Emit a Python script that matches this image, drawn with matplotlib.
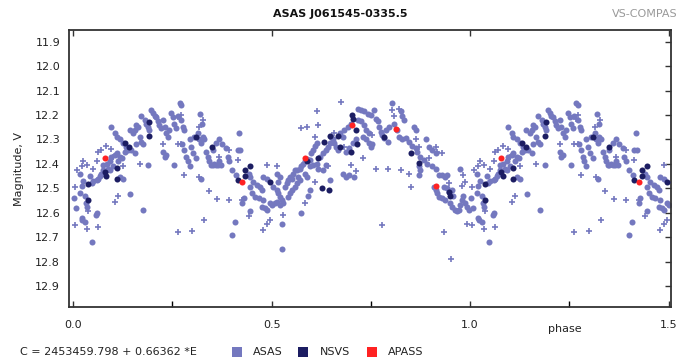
import numpy as np
import matplotlib
matplotlib.use("Agg")
import matplotlib.pyplot as plt
from matplotlib.patches import Rectangle

# ---- data (phase, magnitude V) ----
asas_phase = [0.002,0.007,0.017,0.021,0.025,0.017,0.021,0.023,0.029,0.029,0.032,0.035,0.042,0.046,0.050,0.059,0.063,0.067,0.071,0.075,
0.048,0.057,0.060,0.075,0.084,0.092,0.096,0.105,0.109,0.088,0.092,0.100,0.113,0.096,0.105,0.109,0.117,0.125,0.134,0.130,
0.138,0.146,0.155,0.117,0.124,0.125,0.117,0.144,0.142,0.151,0.155,0.159,0.163,0.167,0.171,0.176,0.171,0.180,0.184,0.188,
0.192,0.176,0.188,0.159,0.196,0.201,0.205,0.209,0.213,0.217,0.222,0.226,0.230,0.234,0.238,0.242,0.234,0.230,0.226,0.247,
0.251,0.255,0.259,0.255,0.268,0.272,0.263,0.272,0.276,0.280,0.274,0.280,0.284,0.288,0.293,0.293,0.297,0.301,0.309,0.305,
0.314,0.318,0.322,0.326,0.330,0.319,0.324,0.322,0.334,0.339,0.343,0.347,0.351,0.355,0.360,0.364,0.368,0.372,0.351,0.360,
0.368,0.376,0.385,0.389,0.393,0.401,0.410,0.401,0.408,0.418,0.414,
0.421,0.442,0.446,0.454,0.463,0.471,0.475,0.446,0.450,0.458,0.467,0.479,0.429,0.425,0.446,0.475,0.483,0.488,0.479,0.488,
0.504,0.513,0.517,0.521,0.525,0.529,0.521,0.496,0.500,0.508,0.513,0.513,0.521,0.517,0.525,0.525,0.533,0.538,0.542,0.546,
0.550,0.554,0.558,0.542,0.546,0.550,0.558,0.563,0.571,0.567,0.563,0.571,0.575,0.579,0.583,0.588,0.573,0.596,0.600,0.604,
0.608,0.613,0.596,0.604,0.613,0.617,0.596,0.592,0.646,0.621,0.629,0.638,0.642,0.646,0.629,0.638,0.583,0.588,0.650,0.654,
0.658,0.663,0.667,0.671,0.679,0.683,0.692,0.700,0.688,0.696,0.704,0.713,0.679,0.688,0.696,0.708,0.717,0.725,0.733,0.742,
0.750,0.758,0.717,0.725,0.733,0.738,0.746,0.729,0.738,0.746,0.750,0.754,0.763,0.767,0.771,0.775,0.779,0.783,0.792,0.788,
0.796,0.804,0.808,0.817,0.821,0.829,0.825,0.829,0.833,0.838,0.846,0.854,0.863,0.867,0.875,0.883,0.892,0.858,0.863,0.871,
0.875,0.871,0.888,0.896,0.904,0.913,0.904,0.913,0.921,0.929,0.938,0.942,0.908,0.913,0.917,0.921,0.929,0.938,0.933,0.942,
0.950,0.954,0.963,0.967,0.946,0.954,0.958,0.971,0.975,0.979,0.983,0.987,0.992,0.996,0.975]
asas_mag = [12.54,12.58,12.52,12.49,12.47,12.44,12.62,12.63,12.64,12.53,12.56,12.575,12.45,12.48,12.47,12.465,12.46,12.45,12.44,12.425,
12.72,12.61,12.60,12.405,12.40,12.39,12.37,12.365,12.355,12.42,12.425,12.41,12.39,12.25,12.275,12.29,12.30,12.315,12.33,12.35,
12.345,12.345,12.355,12.37,12.375,12.46,12.455,12.525,12.26,12.275,12.26,12.24,12.25,12.29,12.31,12.32,12.205,12.22,12.235,12.25,
12.26,12.59,12.405,12.32,12.18,12.19,12.205,12.21,12.225,12.24,12.255,12.22,12.25,12.275,12.29,12.26,12.365,12.37,12.35,12.19,
12.21,12.235,12.255,12.405,12.15,12.16,12.205,12.22,12.25,12.26,12.32,12.345,12.37,12.39,12.41,12.30,12.33,12.355,12.375,12.29,
12.275,12.30,12.315,12.29,12.30,12.195,12.235,12.46,12.35,12.37,12.39,12.405,12.405,12.40,12.405,12.405,12.39,12.405,12.345,12.315,
12.30,12.32,12.335,12.37,12.39,12.425,12.445,12.69,12.64,12.275,12.345,
12.345,12.44,12.455,12.475,12.485,12.495,12.505,12.495,12.52,12.535,12.54,12.55,12.54,12.56,12.595,12.575,12.58,12.59,12.455,12.46,
12.495,12.505,12.52,12.535,12.55,12.56,12.57,12.56,12.57,12.56,12.555,12.44,12.455,12.475,12.645,12.75,12.495,12.48,12.465,12.455,
12.46,12.44,12.425,12.535,12.52,12.505,12.495,12.48,12.465,12.455,12.425,12.42,12.41,12.40,12.39,12.38,12.60,12.385,12.355,12.345,
12.325,12.315,12.41,12.405,12.40,12.42,12.505,12.53,12.466,12.37,12.355,12.345,12.33,12.315,12.425,12.405,12.44,12.455,12.29,12.30,
12.315,12.33,12.345,12.275,12.29,12.26,12.25,12.235,12.35,12.335,12.315,12.30,12.44,12.455,12.445,12.455,12.175,12.18,12.185,12.195,
12.20,12.18,12.22,12.225,12.24,12.26,12.275,12.29,12.30,12.315,12.33,12.32,12.215,12.225,12.25,12.27,12.28,12.295,12.31,12.26,
12.25,12.15,12.235,12.26,12.29,12.30,12.185,12.205,12.22,12.295,12.31,12.325,12.335,12.35,12.37,12.385,12.40,12.25,12.26,12.41,
12.425,12.445,12.30,12.33,12.345,12.355,12.41,12.42,12.445,12.445,12.455,12.445,12.495,12.505,12.52,12.535,12.54,12.55,12.495,12.50,
12.56,12.575,12.59,12.595,12.515,12.505,12.53,12.59,12.57,12.55,12.53,12.56,12.575,12.59,12.42]

asas_small_phase = [0.004,0.010,0.021,0.025,0.035,0.050,0.059,0.063,0.071,0.082,0.100,0.113,0.105,0.038,0.035,0.063,0.004,0.096,0.125,0.167,
0.226,0.263,0.272,0.268,0.272,0.280,0.328,0.316,0.318,0.341,0.329,0.363,0.393,0.263,0.299,0.368,0.393,0.414,
0.425,0.442,0.479,0.488,0.496,0.488,0.513,0.529,0.575,0.583,0.588,0.608,0.613,0.617,0.608,0.642,0.658,0.675,0.683,0.700,
0.713,0.729,0.754,0.763,0.779,0.792,0.804,0.808,0.821,0.825,0.846,0.850,0.863,0.871,0.896,0.913,0.917,0.929,0.933,0.946,
0.953,0.979,0.987,0.992,0.983]
asas_small_mag = [12.65,12.425,12.41,12.39,12.405,12.42,12.39,12.35,12.345,12.325,12.37,12.53,12.555,12.595,12.665,12.66,12.495,12.34,12.41,12.40,
12.32,12.32,12.32,12.215,12.20,12.445,12.22,12.25,12.455,12.51,12.63,12.545,12.55,12.68,12.675,12.37,12.345,12.385,
12.55,12.615,12.67,12.645,12.63,12.405,12.41,12.61,12.255,12.56,12.25,12.29,12.185,12.24,12.475,12.41,12.275,12.145,12.33,12.405,
12.43,12.375,12.28,12.42,12.65,12.42,12.18,12.205,12.175,12.425,12.44,12.495,12.30,12.33,12.375,12.33,12.35,12.355,12.68,12.48,
12.79,12.49,12.475,12.645,12.445]

nsvs_phase = [0.038,0.038,0.079,0.082,0.109,0.109,0.130,0.140,0.190,0.192,0.309,0.350,0.414,
0.433,0.433,0.446,0.496,0.589,0.617,0.628,0.644,0.633,0.646,0.667,0.671,0.703,0.704,0.713,0.714,0.700,
0.783,0.850,0.871,0.948,0.950]
nsvs_mag = [12.484,12.548,12.432,12.45,12.418,12.46,12.313,12.33,12.286,12.227,12.289,12.33,12.466,
12.425,12.45,12.41,12.475,12.39,12.375,12.50,12.505,12.31,12.285,12.285,12.33,12.20,12.215,12.26,12.32,12.35,
12.29,12.355,12.395,12.515,12.53]

apass_phase = [0.079,0.425,0.583,0.703,0.814,0.914]
apass_mag = [12.375,12.474,12.375,12.241,12.259,12.489]

title = "ASAS J061545-0335.5"
ephem = "C = 2453459.798 + 0.66362 *E"
series_names = ["ASAS", "NSVS", "APASS"]
series_colors = ["#7478bf", "#1c1d62", "#ff2222"]
yticks = [11.9, 12.0, 12.1, 12.2, 12.3, 12.4, 12.5, 12.6, 12.7, 12.8, 12.9]
xticks_major = [0.0, 0.5, 1.0, 1.5]
xticks_minor = [0.25, 0.75, 1.25]


def fold(ph, mg):
    ph = np.asarray(ph, float); mg = np.asarray(mg, float)
    ext = ph + 1.0
    keep = ext <= 1.5
    return np.concatenate([ph, ext[keep]]), np.concatenate([mg, mg[keep]])


plt.rcParams['font.family'] = ['DejaVu Sans']
W, H = 682, 362
fig = plt.figure(figsize=(W / 100, H / 100), dpi=100)
ax = fig.add_axes([68.5 / W, 1 - 307 / H, (670.5 - 68.5) / W, (307 - 30) / H])

x, y = fold(asas_phase, asas_mag)
ax.scatter(x, y, s=19, marker='o', color=series_colors[0], linewidths=0, zorder=2)
x, y = fold(asas_small_phase, asas_small_mag)
ax.scatter(x, y, s=14, marker='+', color=series_colors[0], linewidths=1.2, zorder=2)
x, y = fold(nsvs_phase, nsvs_mag)
ax.scatter(x, y, s=19, marker='o', color=series_colors[1], linewidths=0, zorder=3)
x, y = fold(apass_phase, apass_mag)
ax.scatter(x, y, s=19, marker='o', color=series_colors[2], linewidths=0, zorder=4)

ax.set_xlim(-0.012, 1.505)
ax.set_ylim(12.986, 11.852)
ax.set_xticks(xticks_major)
ax.set_xticklabels([f"{v:.1f}" for v in xticks_major])
ax.set_xticks(xticks_minor, minor=True)
ax.set_yticks(yticks)
ax.set_yticklabels([f"{v:.1f}" for v in yticks])

for s in ax.spines.values():
    s.set_color('#333333')
    s.set_linewidth(1.3)
ax.tick_params(axis='x', which='major', direction='in', length=4, width=1, top=True, bottom=True,
               labelsize=8, pad=9, colors='#333333')
ax.tick_params(axis='x', which='minor', direction='in', length=4, width=1, top=False, bottom=True)
ax.tick_params(axis='y', which='major', direction='in', length=4, width=1, left=False, right=True,
               labelsize=8, pad=6, colors='#333333')
for lab in ax.get_xticklabels() + ax.get_yticklabels():
    lab.set_color('#222222')

ax.set_ylabel("Magnitude, V", fontsize=8, color='#222222', labelpad=8)

fig.text(340 / W, 1 - 14 / H, title, ha='center', va='center', fontsize=8, fontweight='bold', color='#111111')
fig.text(678 / W, 1 - 14 / H, "VS-COMPAS", ha='right', va='center', fontsize=8, color='#999999')
fig.text(565 / W, 1 - 329 / H, "phase", ha='center', va='center', fontsize=8, color='#222222')
fig.text(20 / W, 1 - 352 / H, ephem, ha='left', va='center', fontsize=8, color='#222222')

sq_x = [232, 298, 367]
txt_x = [253, 320, 388]
for name, col, sx, tx in zip(series_names, series_colors, sq_x, txt_x):
    fig.patches.append(Rectangle((sx / W, 1 - 357 / H), 10 / W, 10 / H, transform=fig.transFigure,
                                 facecolor=col, edgecolor='none', figure=fig))
    fig.text(tx / W, 1 - 352 / H, name, ha='left', va='center', fontsize=8, color='#222222')

fig.savefig("out.png", dpi=100)
